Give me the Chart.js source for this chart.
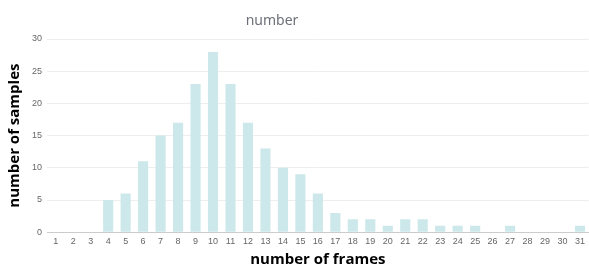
<!DOCTYPE html>
<html>
<head>
<meta charset="utf-8">
<script src="https://cdn.jsdelivr.net/npm/chart.js@4"></script>
<style>
  html, body { margin: 0; padding: 0; background: #fff; }
  #wrap { width: 589px; height: 267px; position: relative; }
</style>
</head>
<body>
<div id="wrap"><canvas id="grafico"></canvas></div>
<script>
// frames 1..31
const frames = ['1','2','3','4','5','6','7','8','9','10','11','12','13','14','15','16','17','18','19','20','21','22','23','24','25','26','27','28','29','30','31'];
const samples = [0,0,0,5,6,11,15,17,23,28,23,17,13,10,9,6,3,2,2,1,2,2,1,1,1,0,1,0,0,0,1];
const yTicks = [0, 5, 10, 15, 20, 25, 30];

const tituloPlugin = {
    id: 'tituloPlugin',
    afterDraw(chart) {
        const ctx = chart.ctx;
        ctx.save();
        ctx.font = '14px "Noto Sans", sans-serif';
        ctx.fillStyle = '#6e7079';
        ctx.textAlign = 'center';
        ctx.textBaseline = 'middle';
        ctx.fillText('number', 272, 21);
        ctx.restore();
    }
};

new Chart(document.getElementById('grafico'), {
    type: 'bar',
    data: {
        labels: frames,
        datasets: [{
            label: 'number',
            data: samples,
            backgroundColor: '#cde8ea',
            categoryPercentage: 1,
            barPercentage: 0.58
        }]
    },
    options: {
        responsive: true,
        maintainAspectRatio: false,
        animation: false,
        layout: { padding: { top: 39, right: 0, left: 6, bottom: 0 } },
        plugins: {
            legend: { display: false },
            tooltip: { enabled: false }
        },
        scales: {
            x: {
                grid: { display: false, drawTicks: false },
                border: { color: '#cccccc' },
                ticks: { color: '#666', font: { size: 9, family: 'Arial, "Liberation Sans", sans-serif' }, maxRotation: 0, autoSkip: false, padding: 4 },
                title: {
                    display: true,
                    text: 'number of frames',
                    color: '#000',
                    font: { size: 15, weight: 'bold', family: '"Open Sans", sans-serif', lineHeight: 1 },
                    padding: { top: 1, bottom: 0 }
                }
            },
            y: {
                min: 0,
                max: 30,
                afterBuildTicks: axis => { axis.ticks = yTicks.map(v => ({ value: v })); },
                grid: { color: '#eeeeee', drawTicks: false },
                border: { display: false },
                ticks: { color: '#666', font: { size: 9, family: 'Arial, "Liberation Sans", sans-serif' }, padding: 5 },
                title: {
                    display: true,
                    text: 'number of samples',
                    color: '#000',
                    font: { size: 15, weight: 'bold', family: '"Open Sans", sans-serif' },
                    padding: { top: 0, bottom: 3 }
                }
            }
        }
    },
    plugins: [tituloPlugin]
});
</script>
</body>
</html>
